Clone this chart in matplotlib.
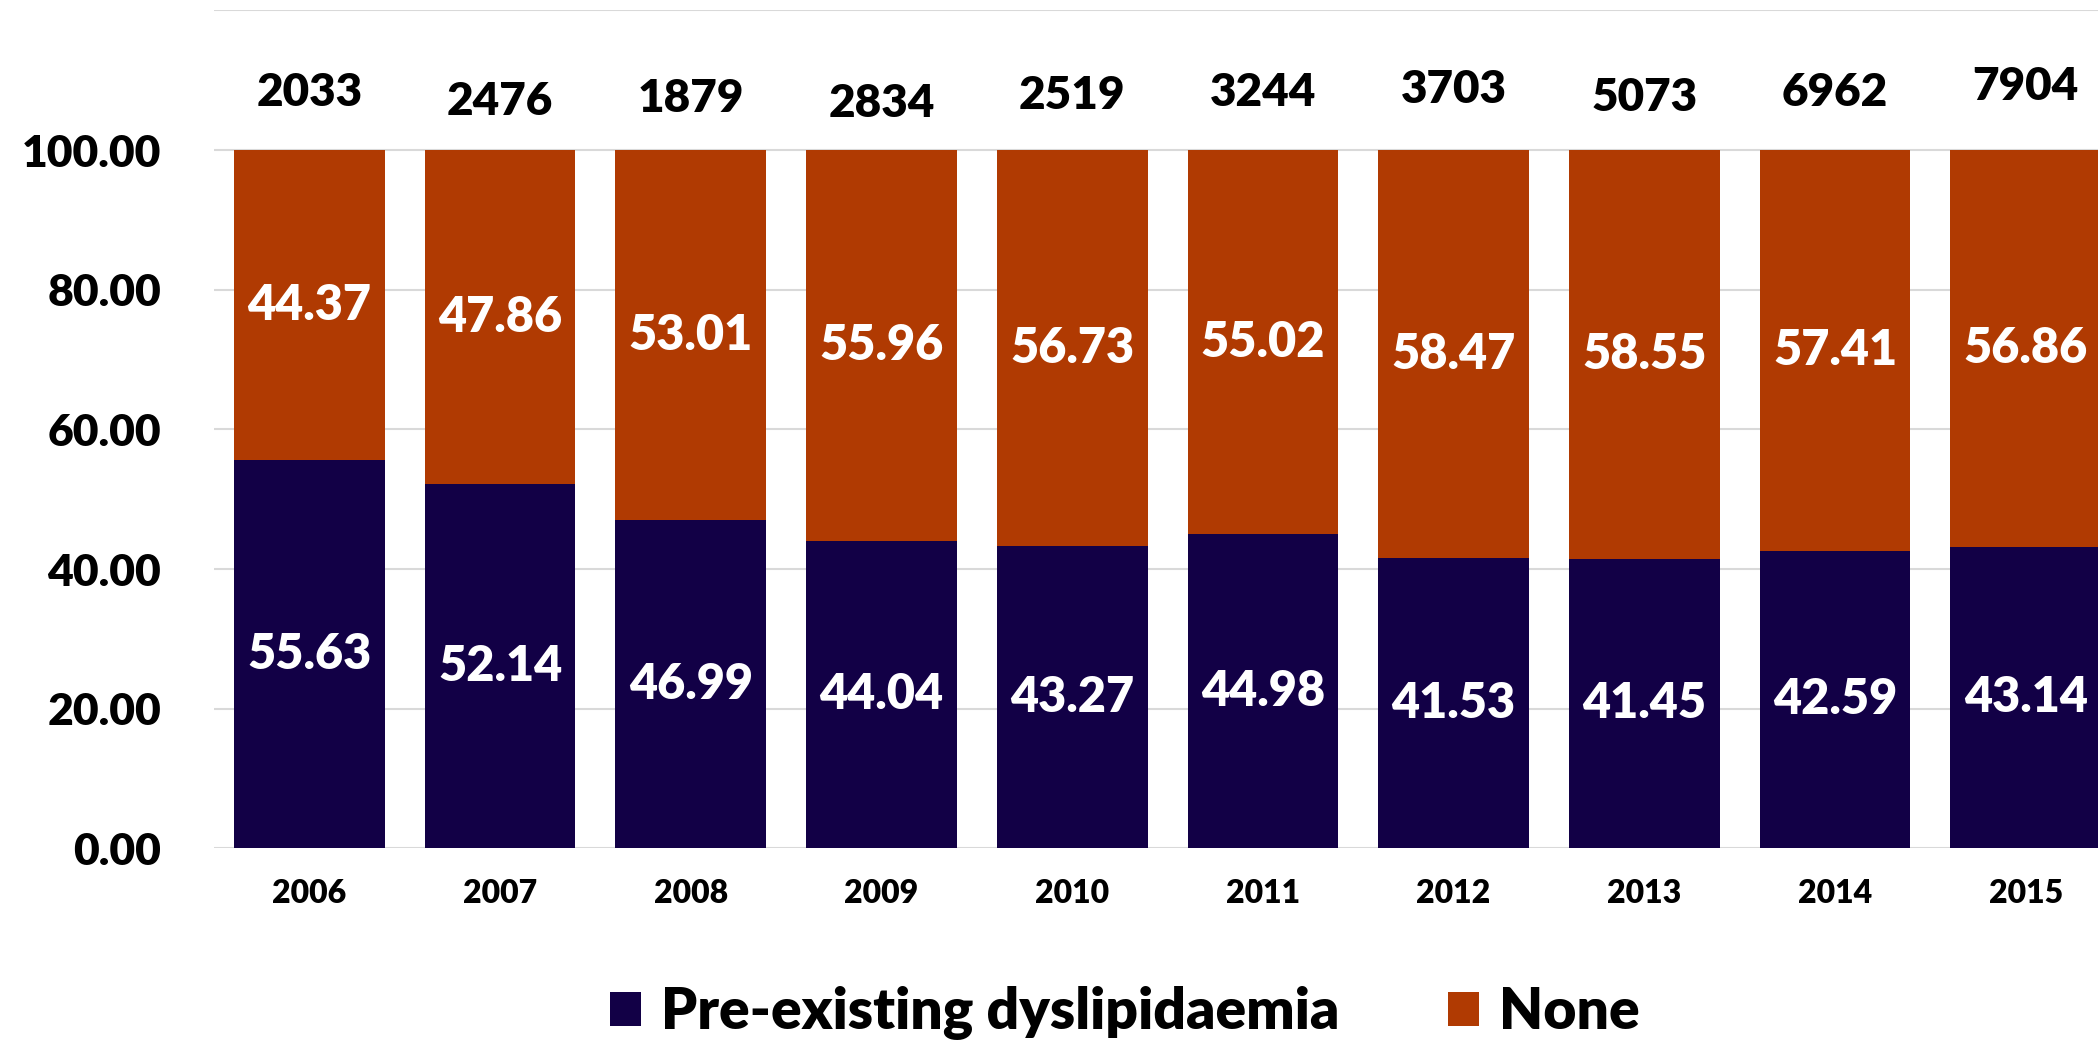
import numpy as np
import matplotlib.pyplot as plt

years = ['2006', '2007', '2008', '2009', '2010', '2011', '2012', '2013', '2014', '2015']
counts = [2033, 2476, 1879, 2834, 2519, 3244, 3703, 5073, 6962, 7904]
dyslip = [55.63, 52.14, 46.99, 44.04, 43.27, 44.98, 41.53, 41.45, 42.59, 43.14]
none = [44.37, 47.86, 53.01, 55.96, 56.73, 55.02, 58.47, 58.55, 57.41, 56.86]

# heights of the count labels above the bars (they sit a little uneven in the original)
count_y = [108.3, 107.0, 107.4, 106.7, 107.8, 108.3, 108.7, 107.6, 108.3, 109.1]

navy = '#120046'
orange = '#b03a02'
wt = 'heavy'
plt.rcParams['font.family'] = ['Lato', 'DejaVu Sans']
plt.rcParams['font.weight'] = wt

fig = plt.figure(figsize=(20.98, 10.41), dpi=100)
ax = fig.add_axes([0.102, 0.185, 0.909, 0.805])
x = np.arange(len(years))
w = 0.79
b1 = ax.bar(x, dyslip, w, color=navy, label='Pre-existing dyslipidaemia', zorder=3)
b2 = ax.bar(x, none, w, bottom=dyslip, color=orange, label='None', zorder=3)

for i in range(len(years)):
    ax.text(x[i], dyslip[i] / 2, f'{dyslip[i]:.2f}', ha='center', va='center',
            color='white', fontsize=35, fontweight=wt, zorder=4)
    ax.text(x[i], dyslip[i] + none[i] / 2, f'{none[i]:.2f}', ha='center', va='center',
            color='white', fontsize=35, fontweight=wt, zorder=4)
    ax.text(x[i], count_y[i], str(counts[i]), ha='center', va='center',
            color='black', fontsize=33, fontweight=wt)

ax.set_xlim(-0.5, len(years) - 0.5)
ax.set_ylim(0, 120)
ax.set_yticks(np.arange(0, 101, 20))
ax.set_yticks([120], minor=True)
ax.set_yticklabels([f'{v:.2f}' for v in np.arange(0, 101, 20)], fontsize=32, fontweight=wt)
ax.set_xticks(x)
ax.set_xticklabels(years, fontsize=23, fontweight=wt)
ax.tick_params(axis='both', which='both', length=0)
ax.tick_params(axis='y', pad=38)
ax.tick_params(axis='x', pad=22)
ax.yaxis.grid(True, which='both', color='#d9d9d9', linewidth=1.5, zorder=0)
for s in ax.spines.values():
    s.set_visible(False)

fig.legend(handles=[b1, b2], loc='center', bbox_to_anchor=(0.536, 0.027), ncol=2,
           frameon=False, handlelength=0.55, handleheight=0.55,
           handletextpad=0.35, columnspacing=1.9, prop={'weight': wt, 'size': 41})

fig.savefig('out.png', dpi=100)
